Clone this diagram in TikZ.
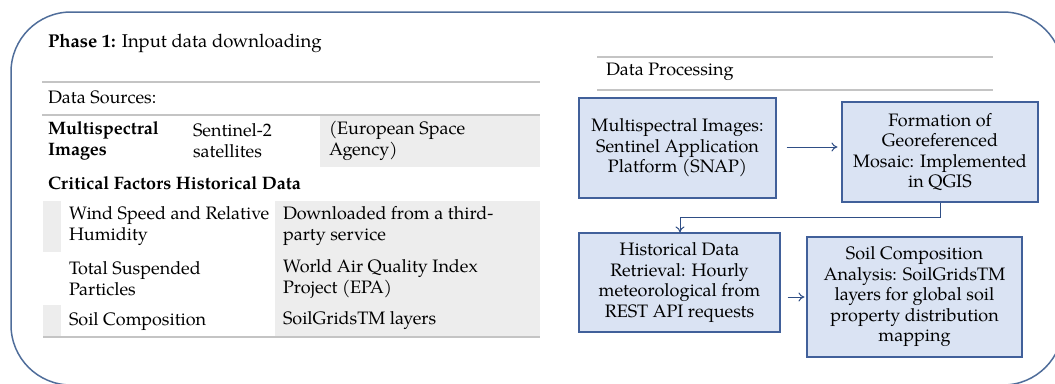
\documentclass[tikz,border=0pt]{standalone}
\usepackage{fontspec}
\setmainfont{TeX Gyre Pagella}
\usetikzlibrary{arrows.meta}
\definecolor{frameblue}{HTML}{4F6D9A}
\definecolor{boxline}{HTML}{41609A}
\definecolor{boxfill}{HTML}{DAE3F3}
\definecolor{arrowblue}{HTML}{2F4E85}
\definecolor{cellgray}{HTML}{EDEDED}
\definecolor{rulegray}{HTML}{C4C4C4}
\tikzset{
  txt/.style={inner sep=0pt, outer sep=0pt, align=left, font=\fontsize{18}{21}\selectfont},
  head/.style={txt, font=\fontsize{18.5}{21}\selectfont},
  stepbox/.style={draw=boxline, line width=1.1pt, fill=boxfill, align=center, inner sep=0pt,
    font=\fontsize{18}{20.5}\selectfont},
  rule/.style={draw=rulegray, line width=1.6pt},
  flow/.style={draw=arrowblue, line width=1pt, -{To[length=6pt,width=9pt]}},
}
\begin{document}
\begin{tikzpicture}[x=1pt, y=-1pt]
\useasboundingbox (0,0) rectangle (1055,383);
% outer frame, partly cut by the page edge
\begin{scope}
  \clip (0,0) rectangle (1055,383);
  \draw[frameblue, line width=1.5pt, rounded corners=60pt] (11,12) rectangle (1063,385);
\end{scope}

% ---------- Phase 1 table ----------
\node[head, anchor=west] (phase) at (48,43) {\textbf{Phase 1:} Input data downloading};
\draw[rule] (42,82) -- (540,82);
\node[txt, anchor=west] (src) at (48,97) {Data Sources:};
\fill[cellgray] (320,115) rectangle (540,167);
\draw[rule] (42,115) -- (540,115);
\node[txt, anchor=west] (ms) at (48,141) {\textbf{Multispectral}\\\textbf{Images}};
\node[txt, anchor=west] (sat) at (193,141) {Sentinel-2\\satellites};
\node[txt, anchor=west] (esa) at (329,141) {(European Space\\Agency)};
\node[txt, anchor=west] (crit) at (48,183) {\textbf{Critical Factors Historical Data}};

\fill[cellgray] (275,201) rectangle (540,337);
\fill[cellgray] (43,201) rectangle (61,252);
\fill[cellgray] (43,305) rectangle (61,337);
\draw[rule] (43,337) -- (540,337);
\node[txt, anchor=west] (wind) at (69,226) {Wind Speed and Relative\\Humidity};
\node[txt, anchor=west] (winds) at (283,226) {Downloaded from a third-\\party service};
\node[txt, anchor=west] (tsp) at (69,279) {Total Suspended\\Particles};
\node[txt, anchor=west] (tsps) at (283,279) {World Air Quality Index\\Project (EPA)};
\node[txt, anchor=west] (soil) at (69,321) {Soil Composition};
\node[txt, anchor=west] (soils) at (283,321) {SoilGridsTM layers};

% ---------- Data processing ----------
\draw[rule, line width=1.3pt] (597,57) -- (993,57);
\node[txt, anchor=west] (dp) at (606,72) {Data Processing};
\draw[rule, line width=1.3pt] (597,90) -- (993,90);

\node[stepbox, minimum width=197pt, minimum height=100pt] (b1) at (677.5,148)
  {Multispectral Images:\\Sentinel Application\\Platform (SNAP)};
\node[stepbox, minimum width=196pt, minimum height=100pt] (b2) at (940,152)
  {Formation of\\Georeferenced\\Mosaic: Implemented\\in QGIS};
\node[stepbox, minimum width=201pt, minimum height=99pt] (b3) at (679.5,282.5)
  {Historical Data\\Retrieval: Hourly\\meteorological from\\REST API requests};
\node[stepbox, minimum width=215pt, minimum height=120pt] (b4) at (914.5,297)
  {Soil Composition\\Analysis: SoilGridsTM\\layers for global soil\\property distribution\\mapping};

\coordinate (k1) at (940,217);
\coordinate (k2) at (680,217);
\draw[flow, shorten <=10pt, shorten >=4pt] (b1.east |- 0,147) -- (b2.west |- 0,147);
\draw[flow] (b2.south -| k1) -- (k1) -- (k2) -- (k2 |- b3.north);
\draw[flow, shorten <=7pt, shorten >=2pt] (b3.east |- 0,297) -- (b4.west |- 0,297);
\end{tikzpicture}
\end{document}
